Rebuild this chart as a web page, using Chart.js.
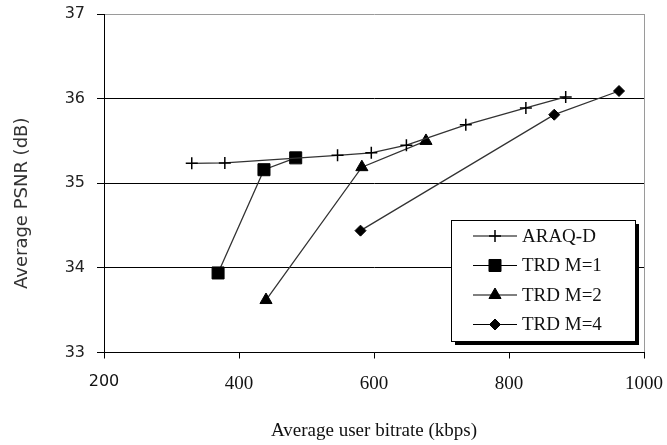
<!DOCTYPE html>
<html>
<head>
<meta charset="utf-8">
<script src="https://cdn.jsdelivr.net/npm/chart.js@4.4.0/dist/chart.umd.min.js"></script>
<style>
  html, body { margin: 0; padding: 0; background: #fff; }
  #wrap { width: 667px; height: 445px; position: relative; }
</style>
</head>
<body>
<div id="wrap"><canvas id="psnrChart"></canvas></div>
<script>
// values
const seriesNames = ['ARAQ-D', 'TRD M=1', 'TRD M=2', 'TRD M=4'];
const araqRate = [330, 379, 546, 596, 648, 736, 825, 884];
const araqPsnr = [35.235, 35.24, 35.33, 35.36, 35.45, 35.69, 35.89, 36.02];
const m1Rate = [369, 437, 484];
const m1Psnr = [33.94, 35.16, 35.30];
const m2Rate = [440, 582, 677];
const m2Psnr = [33.62, 35.19, 35.50];
const m4Rate = [580, 867, 963];
const m4Psnr = [34.44, 35.81, 36.09];
const xTicks = [200, 400, 600, 800, 1000];
const yTicks = [33, 34, 35, 36, 37];

const pts = (xs, ys) => xs.map((x, i) => ({ x: x, y: ys[i] }));

function series(label, data, style, radius, bw) {
  return {
    label: label, data: data, showLine: true,
    borderColor: '#333', borderWidth: 1.3,
    pointStyle: style, pointRadius: radius, pointHoverRadius: radius,
    pointBackgroundColor: '#000', pointBorderColor: '#000', pointBorderWidth: bw
  };
}

// boxed legend with drop shadow, inside the plot
const boxLegend = {
  id: 'boxLegend',
  afterDraw(chart) {
    const ctx = chart.ctx;
    const x0 = 451, y0 = 220, w = 184, h = 121;
    ctx.save();
    ctx.fillStyle = '#000';
    ctx.fillRect(x0 + 4, y0 + 4, w, h);
    ctx.fillStyle = '#fff';
    ctx.fillRect(x0, y0, w, h);
    ctx.strokeStyle = '#000';
    ctx.lineWidth = 1;
    ctx.strokeRect(x0 + 0.5, y0 + 0.5, w, h);
    chart.data.datasets.forEach((ds, i) => {
      const y = y0 + 16 + i * 29.5;
      ctx.strokeStyle = '#000';
      ctx.lineWidth = 1.2;
      ctx.beginPath();
      ctx.moveTo(473, y); ctx.lineTo(517, y);
      ctx.stroke();
      ctx.fillStyle = '#000';
      ctx.lineWidth = ds.pointBorderWidth;
      Chart.helpers.drawPoint(ctx, {
        pointStyle: ds.pointStyle, rotation: 0,
        radius: ds.pointRadius, borderWidth: ds.pointBorderWidth
      }, 495, y);
      ctx.fillStyle = '#111';
      ctx.font = '19px "Liberation Serif", "Times New Roman", serif';
      ctx.textBaseline = 'middle';
      ctx.textAlign = 'left';
      ctx.fillText(ds.label, 522, y + 1);
    });
    ctx.restore();
  }
};

new Chart(document.getElementById('psnrChart'), {
  type: 'scatter',
  data: {
    datasets: [
      series(seriesNames[0], pts(araqRate, araqPsnr), 'cross', 6, 1.5),
      series(seriesNames[1], pts(m1Rate, m1Psnr), 'rect', 8.5, 1),
      series(seriesNames[2], pts(m2Rate, m2Psnr), 'triangle', 7, 1),
      series(seriesNames[3], pts(m4Rate, m4Psnr), 'rectRot', 5.5, 1)
    ]
  },
  options: {
    responsive: true, maintainAspectRatio: false, animation: false,
    layout: { autoPadding: false, padding: { top: 14, right: 23, left: 0, bottom: 0 } },
    plugins: { legend: { display: false }, tooltip: { enabled: false } },
    scales: {
      x: {
        type: 'linear', min: 200, max: 1000,
        afterBuildTicks: s => { s.ticks = xTicks.map(v => ({ value: v })); },
        afterFit: s => { s.height = 92.5; s.paddingLeft = 0; s.paddingRight = 0; },
        border: { color: '#000', width: 1 },
        grid: {
          color: c => (c.tick && c.tick.value === 1000) ? '#9a9a9a' : 'rgba(0,0,0,0)',
          tickColor: '#000', tickLength: 6, lineWidth: 1
        },
        ticks: {
          color: '#111', padding: 14, maxRotation: 0,
          callback: v => String(v),
          font: c => c.index === 0
            ? { family: '"DejaVu Sans", sans-serif', size: 16 }
            : { family: '"Liberation Serif", "Times New Roman", serif', size: 19 }
        },
        title: {
          display: true, text: 'Average user bitrate (kbps)', color: '#111',
          font: { family: '"Liberation Serif", "Times New Roman", serif', size: 19 },
          padding: { top: 0, bottom: 3 }
        }
      },
      y: {
        type: 'linear', min: 33, max: 37,
        afterBuildTicks: s => { s.ticks = yTicks.map(v => ({ value: v })); },
        afterFit: s => { s.width = 104; s.paddingTop = 0; s.paddingBottom = 0; },
        border: { color: '#000', width: 1 },
        grid: {
          color: c => (c.tick && c.tick.value === 37) ? '#9a9a9a' : '#000',
          tickColor: '#000', tickLength: 7, lineWidth: 1
        },
        ticks: {
          color: '#222', padding: 12,
          callback: v => String(v),
          font: { family: '"DejaVu Sans", sans-serif', size: 16 }
        },
        title: {
          // trailing no-break spaces nudge the centred title lower, as in the source figure
          display: true, text: 'Average PSNR (dB)\u00a0\u00a0\u00a0\u00a0\u00a0\u00a0\u00a0', color: '#333',
          font: { family: '"DejaVu Sans", sans-serif', size: 18 },
          padding: { top: 12, bottom: 0 }
        }
      }
    }
  },
  plugins: [boxLegend]
});
</script>
</body>
</html>
